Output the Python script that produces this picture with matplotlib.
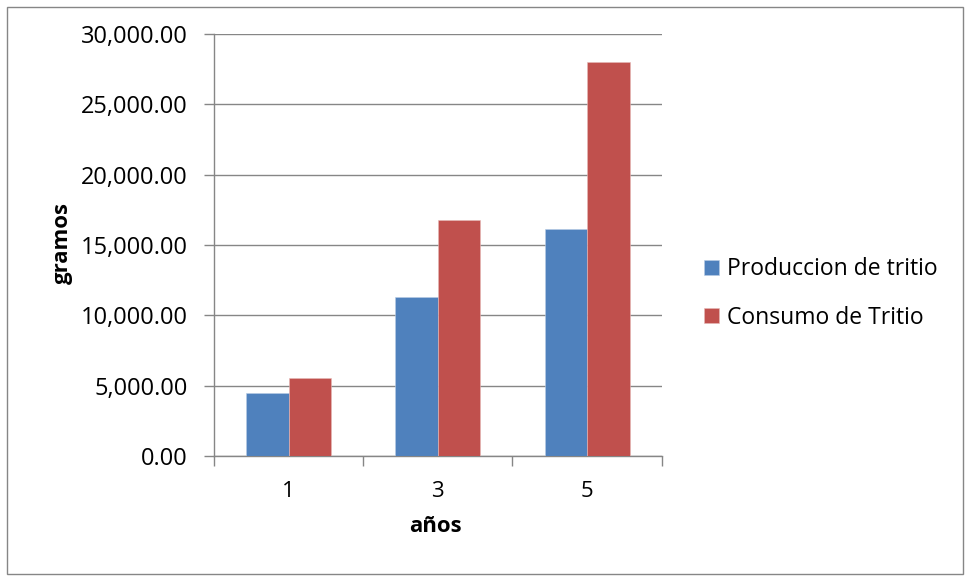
import matplotlib
matplotlib.use("Agg")
import matplotlib.pyplot as plt
from matplotlib.patches import Rectangle
import numpy as np

categories = ["1", "3", "5"]
produccion = [4450, 11280, 16160]
consumo = [5570, 16800, 28010]
series_names = ["Produccion de tritio", "Consumo de Tritio"]
yticks = [0, 5000, 10000, 15000, 20000, 25000, 30000]

plt.rcParams['font.family'] = ['Open Sans', 'DejaVu Sans']

fig = plt.figure(figsize=(9.69, 5.8), dpi=100)
ax = fig.add_axes([214/969, 1-456/580, (661.7-214)/969, (456-34)/580])

x = np.arange(len(categories))
w = 0.285
ax.bar(x - w/2, produccion, w, color="#4F81BD", edgecolor="#B9CDE5", linewidth=0.4, label=series_names[0], zorder=3)
ax.bar(x + w/2, consumo, w, color="#C0504D", edgecolor="#E6B9B8", linewidth=0.4, label=series_names[1], zorder=3)

ax.set_xlim(-0.5, 2.5)
ax.set_ylim(0, 30000)
ax.set_yticks(yticks)
ax.set_yticklabels([f"{v:,.2f}" for v in yticks], fontsize=17)
ax.set_xticks(x)
ax.set_xticklabels(categories, fontsize=16)
ax.set_xticks([-0.5, 0.5, 1.5, 2.5], minor=True)
ax.tick_params(axis='x', which='major', length=0, pad=18)
ax.tick_params(axis='x', which='minor', length=7, color="#868686", width=1)
ax.tick_params(axis='y', length=7, color="#868686", width=1, pad=12)
ax.grid(axis='y', color="#868686", linewidth=1, zorder=0)
for s in ['top', 'right']:
    ax.spines[s].set_visible(False)
for s in ['left', 'bottom']:
    ax.spines[s].set_color("#868686")
    ax.spines[s].set_linewidth(1)

fig.text(62/969, 1-243/580, "gramos", rotation=90, ha='center', va='center',
         fontsize=16, fontweight='bold')
fig.text(435/969, 1-527/580, "años", ha='center', va='center',
         fontsize=16, fontweight='bold')

fs = 16.5
fig.legend(loc='center left', bbox_to_anchor=((693 - 0.4*fs*100/72)/969, 1-293.5/580),
           bbox_transform=fig.transFigure, frameon=False,
           fontsize=fs, handlelength=0.65, handleheight=0.65, handletextpad=0.35,
           labelspacing=1.05)

fig.patches.append(Rectangle((7/969, 6/580), 956/969, 567/580, transform=fig.transFigure,
                             fill=False, edgecolor="#868686", linewidth=1))

fig.savefig("out.png", dpi=100)
